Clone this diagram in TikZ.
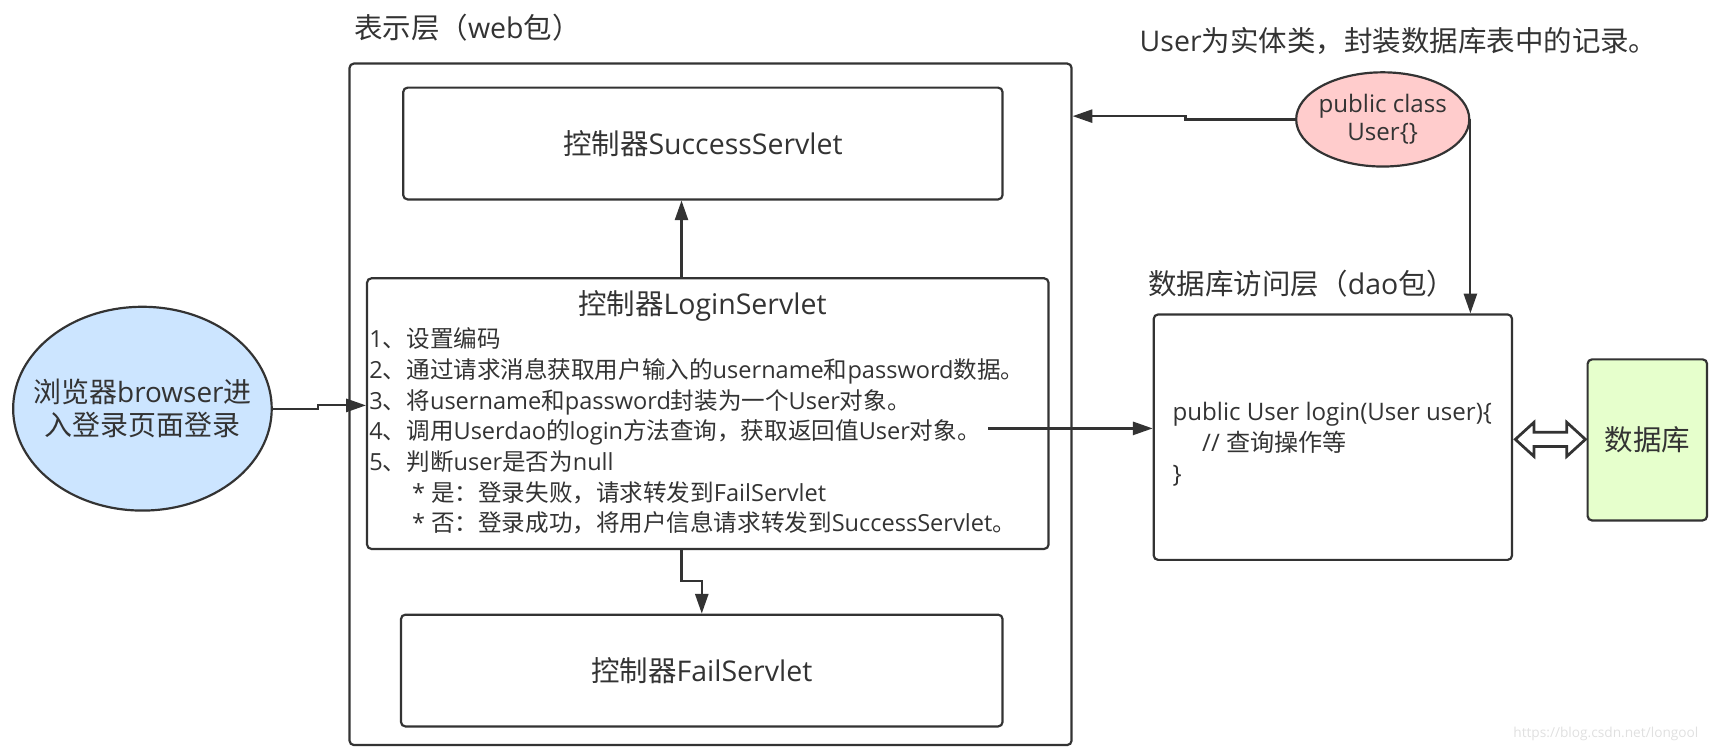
\documentclass[tikz,border=0pt]{standalone}
\usepackage{fontspec}
\setmainfont{Open Sans}
\newfontfamily\cjkf{Noto Sans CJK SC}
\usetikzlibrary{arrows.meta,shapes.geometric}
\XeTeXinterchartokenstate=1
\newXeTeXintercharclass\CJKcls
\count255="3000
\loop\ifnum\count255<"A000
  \XeTeXcharclass\count255=\CJKcls
  \advance\count255 by 1
\repeat
\count255="FF00
\loop\ifnum\count255<"FFF0
  \XeTeXcharclass\count255=\CJKcls
  \advance\count255 by 1
\repeat
\XeTeXinterchartoks 0 \CJKcls = {\begingroup\cjkf}
\XeTeXinterchartoks 4095 \CJKcls = {\begingroup\cjkf}
\XeTeXinterchartoks \CJKcls 0 = {\endgroup}
\XeTeXinterchartoks \CJKcls 4095 = {\endgroup}
\definecolor{ln}{HTML}{333333}
\definecolor{bluef}{HTML}{CCE5FF}
\definecolor{pinkf}{HTML}{FFCCCC}
\definecolor{greenf}{HTML}{E6FFCC}
\tikzset{
  box/.style={draw=ln, line width=2pt, rounded corners=4pt, rectangle, inner sep=0pt, text=ln},
  oval/.style={ellipse, draw=ln, line width=2pt, inner sep=0pt},
  arr/.style={draw=ln, line width=2pt, -{Triangle[length=18pt,width=12pt]}},
  lab/.style={text=ln, inner sep=0pt},
  big/.style={font=\fontsize{26}{30}\selectfont},
}
\begin{document}
\begin{tikzpicture}[x=1pt,y=-1pt]
\useasboundingbox (0,0) rectangle (1568,687);
% web layer
\node[box, minimum width=659pt, minimum height=622pt] (outer) at (648.5,369) {};
\node[lab, big, anchor=west] (webtitle) at (323,25) {表示层（web包）};
\node[box, big, minimum width=547pt, minimum height=102pt] (success) at (641.5,131) {控制器SuccessServlet};
\node[box, minimum width=622pt, minimum height=247pt] (login) at (646,377.5) {};
\node[lab, big] (logintitle) at (641,279) {控制器LoginServlet};
\node[lab, font=\fontsize{21.5}{28}\selectfont, align=left, anchor=north west] (loginsteps) at (337,299) {1、设置编码\\2、通过请求消息获取用户输入的username和password数据。\\3、将username和password封装为一个User对象。\\4、调用Userdao的login方法查询，获取返回值User对象。\\5、判断user是否为null\\\hspace*{39pt}* 是：登录失败，请求转发到FailServlet\\\hspace*{39pt}* 否：登录成功，将用户信息请求转发到SuccessServlet。};
\node[box, big, minimum width=549pt, minimum height=102pt] (fail) at (640.5,612) {控制器FailServlet};
% browser
\node[oval, fill=bluef, minimum width=236pt, minimum height=186pt] (browser) at (130,373) {};
\node[lab, align=center, font=\fontsize{25.5}{30}\selectfont] (browsertxt) at (browser.center) {浏览器browser进\\入登录页面登录};
% user entity
\node[lab, big, anchor=west] (note) at (1040,37) {User为实体类，封装数据库表中的记录。};
\node[oval, fill=pinkf, minimum width=158pt, minimum height=86pt] (user) at (1262,109) {};
\node[lab, align=center, font=\fontsize{22}{26}\selectfont] (usertxt) at (user.center) {public class\\User\{\}};
% dao
\node[lab, big, anchor=west] (daolabel) at (1048,259) {数据库访问层（dao包）};
\node[box, minimum width=327pt, minimum height=224pt] (dao) at (1216.5,399) {};
\node[lab, font=\fontsize{22}{28}\selectfont, align=left, anchor=north west] (daocode) at (1070,367) {public User login(User user)\{\\\hspace*{27pt}// 查询操作等\\\}};
% database
\node[box, big, fill=greenf, minimum width=109pt, minimum height=147pt] (db) at (1503.5,401.5) {数据库};
% watermark
\node[anchor=west, inner sep=0pt, text=black!12, font=\fontsize{12.5}{14}\selectfont] (wm) at (1381,670) {https://blog.csdn.net/longool};
% connectors
\coordinate (bj1) at (290,373);
\coordinate (bj2) at (290,370);
\draw[arr] (browser.east) -- (bj1) -- (bj2) -- (bj2 -| login.west);
\coordinate (ls) at ([xshift=-24pt]login.north);
\draw[arr] (ls) -- (ls |- success.south);
\coordinate (lf) at ([xshift=-24pt]login.south);
\draw[arr] (lf) -- ++(0,28) -| (fail.north);
\coordinate (l4) at (902,391);
\draw[arr] (l4) -- (l4 -| dao.west);
\coordinate (uj1) at (1082,109);
\coordinate (uj2) at (1082,106);
\draw[arr] (user.west) -- (uj1) -- (uj2) -- (uj2 -| outer.east);
\draw[arr] (user.east) -- (user.east |- dao.north);
% hollow double arrow between dao and db
\draw[draw=ln, line width=2.5pt, fill=white, line join=miter]
  (1383,401) -- (1400,385.5) -- (1400,394.5) -- (1430,394.5) -- (1430,385.5) -- (1447,401)
  -- (1430,416.5) -- (1430,407.5) -- (1400,407.5) -- (1400,416.5) -- cycle;
\end{tikzpicture}
\end{document}
